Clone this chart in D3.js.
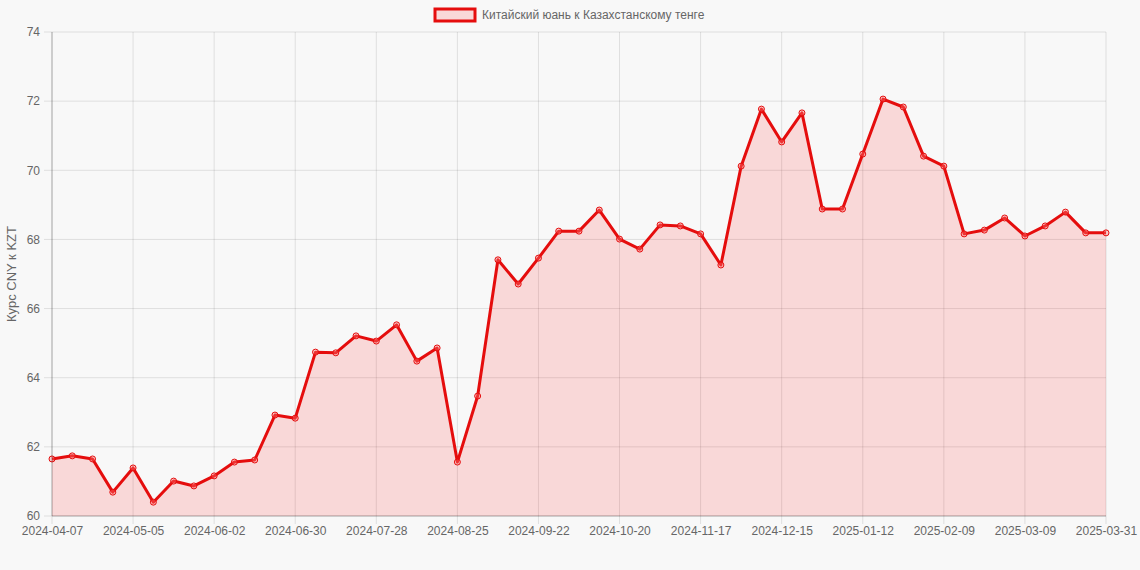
<!DOCTYPE html>
<html>
<head>
    <meta charset="UTF-8">
    <title>CNY к KZT</title>
    <script src="https://d3js.org/d3.v7.min.js"></script>
    <style>
        html, body {
            margin: 0;
            padding: 0;
            background: #f8f8f8;
            font-family: "Liberation Sans", Arial, sans-serif;
        }
        .tick text {
            fill: #666;
            font-size: 12px;
        }
    </style>
</head>
<body>
    <div id="chart"></div>

    <script type="text/javascript">
        // weekly dates (category axis)
        const dates = [
            "2024-04-07", "2024-04-14", "2024-04-21", "2024-04-28", "2024-05-05", "2024-05-12",
            "2024-05-19", "2024-05-26", "2024-06-02", "2024-06-09", "2024-06-16", "2024-06-23",
            "2024-06-30", "2024-07-07", "2024-07-14", "2024-07-21", "2024-07-28", "2024-08-04",
            "2024-08-11", "2024-08-18", "2024-08-25", "2024-09-01", "2024-09-08", "2024-09-15",
            "2024-09-22", "2024-09-29", "2024-10-06", "2024-10-13", "2024-10-20", "2024-10-27",
            "2024-11-03", "2024-11-10", "2024-11-17", "2024-11-24", "2024-12-01", "2024-12-08",
            "2024-12-15", "2024-12-22", "2024-12-29", "2025-01-05", "2025-01-12", "2025-01-19",
            "2025-01-26", "2025-02-02", "2025-02-09", "2025-02-16", "2025-02-23", "2025-03-02",
            "2025-03-09", "2025-03-16", "2025-03-23", "2025-03-30", "2025-03-31"
        ];

        // CNY -> KZT rate
        const rates = [
            61.65, 61.74, 61.65, 60.69, 61.39, 60.40, 61.01, 60.87, 61.16, 61.56, 61.62, 62.92,
            62.83, 64.74, 64.72, 65.21, 65.06, 65.53, 64.48, 64.86, 61.56, 63.47, 67.41, 66.71,
            67.46, 68.24, 68.24, 68.85, 68.01, 67.72, 68.42, 68.39, 68.16, 67.26, 70.12, 71.77,
            70.82, 71.66, 68.88, 68.88, 70.47, 72.06, 71.83, 70.41, 70.12, 68.16, 68.27, 68.62,
            68.10, 68.39, 68.79, 68.19, 68.19
        ];

        const yTicks = [60, 62, 64, 66, 68, 70, 72, 74];
        const xTickLabels = dates.filter((d, i) => i % 4 === 0 || i === dates.length - 1);

        const seriesLabel = "Китайский юань к Казахстанскому тенге";
        const yTitle = "Курс CNY к KZT";

        function drawChart() {
            const W = 1140, H = 570;
            const margin = { top: 32, right: 34, bottom: 54, left: 52 };
            const width = W - margin.left - margin.right;
            const height = H - margin.top - margin.bottom;

            const svg = d3.select("#chart")
                .append("svg")
                .attr("width", W)
                .attr("height", H);

            const g = svg.append("g")
                .attr("transform", `translate(${margin.left},${margin.top})`);

            const x = d3.scalePoint()
                .domain(dates)
                .range([0, width]);

            const y = d3.scaleLinear()
                .domain([60, 74])
                .range([height, 0]);

            // grid lines
            g.append("g")
                .selectAll("line")
                .data(xTickLabels)
                .join("line")
                .attr("x1", d => x(d)).attr("x2", d => x(d))
                .attr("y1", 0).attr("y2", height + 8)
                .attr("stroke", "rgba(0,0,0,0.1)");

            g.append("g")
                .selectAll("line")
                .data(yTicks)
                .join("line")
                .attr("x1", -8).attr("x2", width)
                .attr("y1", d => y(d)).attr("y2", d => y(d))
                .attr("stroke", "rgba(0,0,0,0.1)");

            // area + line
            const area = d3.area()
                .x((d, i) => x(dates[i]))
                .y0(height)
                .y1(d => y(d));

            const line = d3.line()
                .x((d, i) => x(dates[i]))
                .y(d => y(d));

            g.append("path")
                .datum(rates)
                .attr("fill", "rgba(255, 0, 0, 0.13)")
                .attr("d", area);

            g.append("path")
                .datum(rates)
                .attr("fill", "none")
                .attr("stroke", "#e50d0d")
                .attr("stroke-width", 3)
                .attr("stroke-linejoin", "round")
                .attr("d", line);

            g.append("g")
                .selectAll("circle")
                .data(rates)
                .join("circle")
                .attr("cx", (d, i) => x(dates[i]))
                .attr("cy", d => y(d))
                .attr("r", 3)
                .attr("fill", "rgba(255, 120, 120, 0.35)")
                .attr("stroke", "#e50d0d")
                .attr("stroke-width", 1);

            // axes
            const xAxis = d3.axisBottom(x)
                .tickValues(xTickLabels)
                .tickSize(0)
                .tickPadding(10);

            const xg = g.append("g")
                .attr("transform", `translate(0,${height})`)
                .call(xAxis);
            xg.select(".domain").remove();

            const yAxis = d3.axisLeft(y)
                .tickValues(yTicks)
                .tickSize(0)
                .tickPadding(12);

            const yg = g.append("g").call(yAxis);
            yg.select(".domain").remove();

            g.append("line")
                .attr("x1", 0).attr("x2", width)
                .attr("y1", height).attr("y2", height)
                .attr("stroke", "rgba(0,0,0,0.25)");
            g.append("line")
                .attr("x1", 0).attr("x2", 0)
                .attr("y1", 0).attr("y2", height)
                .attr("stroke", "rgba(0,0,0,0.25)");

            // y title
            svg.append("text")
                .attr("transform", `translate(16,${margin.top + height / 2}) rotate(-90)`)
                .attr("text-anchor", "middle")
                .attr("fill", "#666")
                .style("font-size", "13px")
                .text(yTitle);

            // legend
            const legend = svg.append("g").attr("transform", "translate(435,9)");
            legend.append("rect")
                .attr("width", 40).attr("height", 12)
                .attr("fill", "rgba(255, 0, 0, 0.13)")
                .attr("stroke", "#e50d0d")
                .attr("stroke-width", 3);
            legend.append("text")
                .attr("x", 47).attr("y", 10)
                .attr("fill", "#666")
                .style("font-size", "12px")
                .text(seriesLabel);
        }

        drawChart();
    </script>
</body>
</html>
